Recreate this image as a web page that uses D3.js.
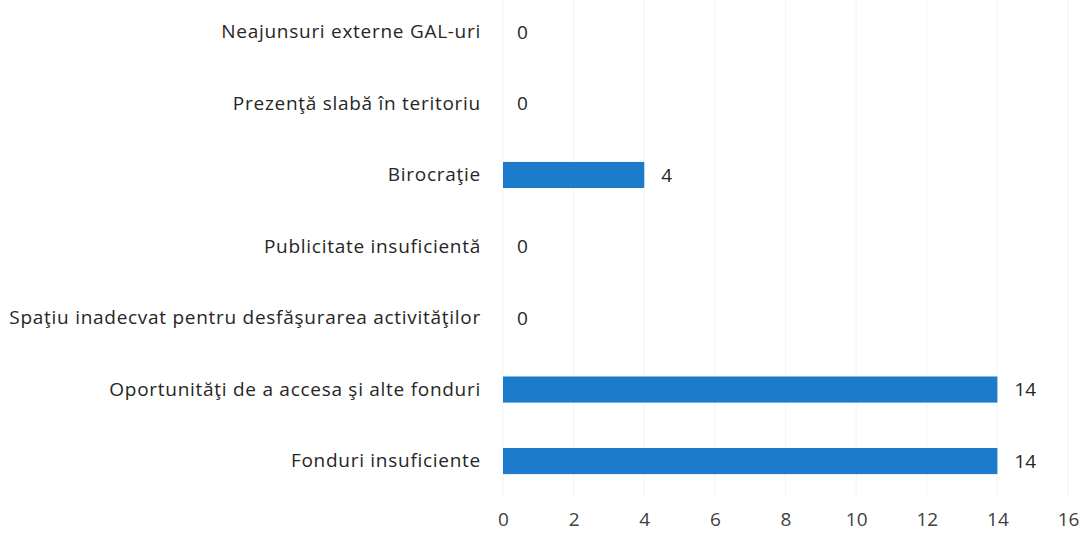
<!DOCTYPE html>
<html>
<head>
<meta charset="utf-8">
<style>
  body { margin: 0; background: #fff; }
  text { font-family: "Open Sans", "Noto Sans", sans-serif; fill: #262626; }
</style>
</head>
<body>
<div id="chart"></div>
<script src="https://d3js.org/d3.v7.min.js"></script>
<script>
var categories = [
  "Neajunsuri externe GAL-uri",
  "Prezenţă slabă în teritoriu",
  "Birocraţie",
  "Publicitate insuficientă",
  "Spaţiu inadecvat pentru desfăşurarea activităţilor",
  "Oportunităţi de a accesa şi alte fonduri",
  "Fonduri insuficiente"
];
var values = [0, 0, 4, 0, 0, 14, 14];
var ticks = [0, 2, 4, 6, 8, 10, 12, 14, 16];

var W = 1084, H = 535;
var margin = {top: -4, right: 16, bottom: 38, left: 503};
var width = W - margin.left - margin.right,
    height = H - margin.top - margin.bottom;

var svg = d3.select("#chart").append("svg")
    .attr("width", W).attr("height", H)
  .append("g")
    .attr("transform", "translate(" + margin.left + "," + margin.top + ")");

var x = d3.scaleLinear().domain([0, 16]).range([0, 565]);
var y = d3.scaleBand().domain(categories).range([0, height]).paddingInner(0.635).paddingOuter(0.32);

// faint gridlines
svg.selectAll(".grid")
  .data(ticks)
  .enter().append("line")
  .attr("x1", d => x(d)).attr("x2", d => x(d))
  .attr("y1", 0).attr("y2", height)
  .attr("stroke", "#f3f3f3").attr("stroke-width", 1);

svg.selectAll(".bar")
  .data(values)
  .enter().append("rect")
  .attr("x", 0)
  .attr("y", (d, i) => y(categories[i]))
  .attr("width", d => x(d))
  .attr("height", y.bandwidth())
  .attr("fill", "#1c7bcb");

svg.selectAll(".val")
  .data(values)
  .enter().append("text")
  .attr("x", d => x(d) + (d === 0 ? 14 : 17))
  .attr("y", (d, i) => y(categories[i]) + y.bandwidth() / 2)
  .attr("dy", "0.35em")
  .style("font-size", "19px")
  .text(d => d);

var yAxis = svg.append("g").call(d3.axisLeft(y).tickSize(0).tickPadding(22));
yAxis.select(".domain").remove();
yAxis.selectAll("text")
  .style("font-size", "19px")
  .style("letter-spacing", "0.72px")
  .style("fill", "#262626");

var xAxis = svg.append("g")
  .attr("transform", "translate(0," + height + ")")
  .call(d3.axisBottom(x).tickValues(ticks).tickSize(0).tickPadding(16));
xAxis.select(".domain").remove();
xAxis.selectAll("text").style("font-size", "19px").style("fill", "#404040");
</script>
</body>
</html>
